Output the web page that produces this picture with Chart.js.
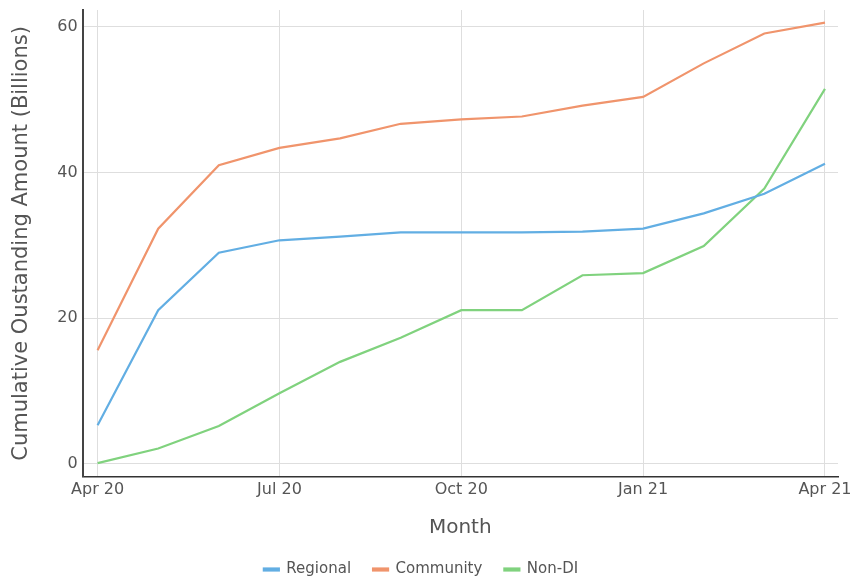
<!DOCTYPE html>
<html>
<head>
<meta charset="utf-8">
<script src="https://cdn.jsdelivr.net/npm/chart.js@4"></script>
<style>
  html, body { margin: 0; padding: 0; background: #fff; overflow: hidden; }
  #wrap { width: 856px; height: 579px; }
</style>
</head>
<body>
<div id="wrap"><canvas id="c" width="856" height="579"></canvas></div>
<script>
const months = ["Apr 20","May 20","Jun 20","Jul 20","Aug 20","Sep 20","Oct 20","Nov 20","Dec 20","Jan 21","Feb 21","Mar 21","Apr 21"];
const tickMonths = ["Apr 20","Jul 20","Oct 20","Jan 21","Apr 21"];
const yTicks = [0, 20, 40, 60];
const regional  = [5.3, 21.1, 29.0, 30.7, 31.2, 31.8, 31.8, 31.8, 31.9, 32.3, 34.4, 37.1, 41.2];
const community = [15.6, 32.3, 41.0, 43.4, 44.7, 46.7, 47.3, 47.7, 49.2, 50.4, 55.0, 59.1, 60.6];
const nonDI     = [0.1, 2.1, 5.2, 9.7, 14.0, 17.3, 21.1, 21.1, 25.9, 26.2, 29.9, 37.8, 51.5];

const toPts = arr => arr.map((v, i) => ({ x: i, y: v }));
const tickIdx = tickMonths.map(m => months.indexOf(m));

const font = "'DejaVu Sans', Verdana, sans-serif";

new Chart(document.getElementById('c'), {
  type: 'line',
  data: {
    datasets: [
      { label: 'Regional', data: toPts(regional), borderColor: '#62AEE3', backgroundColor: '#62AEE3', borderWidth: 2.2, pointRadius: 0, tension: 0 },
      { label: 'Community', data: toPts(community), borderColor: '#F0946C', backgroundColor: '#F0946C', borderWidth: 2.2, pointRadius: 0, tension: 0 },
      { label: 'Non-DI', data: toPts(nonDI), borderColor: '#80D27E', backgroundColor: '#80D27E', borderWidth: 2.2, pointRadius: 0, tension: 0 }
    ]
  },
  options: {
    responsive: false,
    animation: false,
    layout: { padding: { left: 4, right: 18, top: 10, bottom: -8 } },
    plugins: {
      tooltip: { enabled: false },
      legend: {
        position: 'bottom',
        labels: {
          font: { family: font, size: 15 },
          color: '#555',
          boxWidth: 15,
          boxHeight: 2,
          padding: 22
        }
      }
    },
    scales: {
      x: {
        type: 'linear',
        min: -0.248,
        max: 12.215,
        afterBuildTicks: s => { s.ticks = tickIdx.map(v => ({ value: v })); },
        ticks: {
          callback: v => months[v],
          font: { family: font, size: 16 },
          color: '#555',
          maxRotation: 0,
          padding: 3
        },
        grid: { color: '#dedede', lineWidth: 1, drawTicks: false },
        border: { color: '#333', width: 1.5 },
        title: { display: true, text: 'Month', font: { family: font, size: 20 }, color: '#555', padding: { top: 14, bottom: 0 } }
      },
      y: {
        min: -1.785,
        max: 62.33,
        afterBuildTicks: s => { s.ticks = yTicks.map(v => ({ value: v })); },
        afterFit: s => { s.paddingTop = 0; },
        ticks: {
          font: { family: font, size: 16 },
          color: '#555',
          padding: 5
        },
        grid: { color: '#dedede', lineWidth: 1, drawTicks: false },
        border: { color: '#444', width: 2 },
        title: { display: true, text: 'Cumulative Oustanding Amount (Billions)', font: { family: font, size: 21 }, color: '#555', padding: { top: 5, bottom: 18 } }
      }
    }
  }
});
</script>
</body>
</html>
